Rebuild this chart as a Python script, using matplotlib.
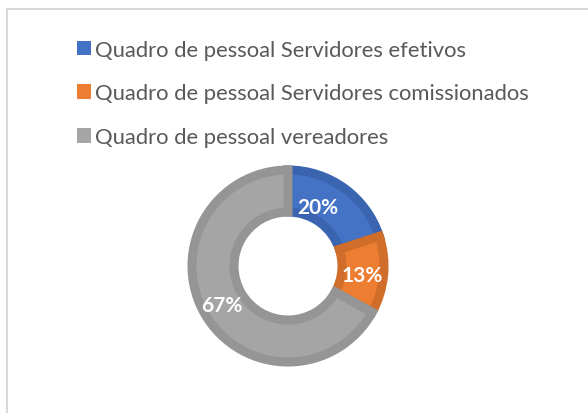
import matplotlib.pyplot as plt
from matplotlib.patches import Patch, Rectangle

# dados do gráfico
labels = ['Quadro de pessoal Servidores efetivos',
          'Quadro de pessoal Servidores comissionados',
          'Quadro de pessoal vereadores']
values = [20, 13, 67]
colors = ['#4472C4', '#ED7D31', '#A5A5A5']
edge_colors = ['#3A64AF', '#D06D2B', '#959595']

plt.rcParams['font.family'] = ['Lato', 'DejaVu Sans']

fig = plt.figure(figsize=(5.88, 4.14), dpi=100)

# borda da área do gráfico
fig.patches.append(Rectangle((6.5 / 588, -0.1), 1.2, 1 - 9.5 / 414 + 0.1,
                             transform=fig.transFigure, fill=False,
                             edgecolor='#D9D9D9', linewidth=1.5))

# eixo quadrado centrado no anel (1 unidade = 100 px)
cx, cy = 288, 267
ax = fig.add_axes([(cx - 110) / 588, 1 - (cy + 110) / 414, 220 / 588, 220 / 414])

wedges, _ = ax.pie(values, colors=colors, startangle=90, counterclock=False,
                   radius=0.96, wedgeprops=dict(width=0.42, linewidth=6.5))
for w, ec in zip(wedges, edge_colors):
    w.set_edgecolor(ec)
ax.set_xlim(-1.1, 1.1)
ax.set_ylim(-1.1, 1.1)
ax.set_aspect('equal')
ax.axis('off')

# rótulos de porcentagem
label_pos = [(0.30, 0.59), (0.74, -0.09), (-0.66, -0.39)]
for v, (x, y) in zip(values, label_pos):
    ax.text(x, y, '%d%%' % v, color='white', fontsize=15, fontweight='bold',
            ha='center', va='center')

handles = [Patch(facecolor=c, edgecolor='none') for c in colors]
leg = fig.legend(handles, labels, loc='upper left', bbox_to_anchor=(68 / 588, 1 - 32 / 414),
                 frameon=False, fontsize=15.8, handlelength=0.65, handleheight=0.65,
                 handletextpad=0.2, labelspacing=1.08, borderaxespad=0)
for t in leg.get_texts():
    t.set_color('#595959')

fig.savefig('out.png', dpi=100)
